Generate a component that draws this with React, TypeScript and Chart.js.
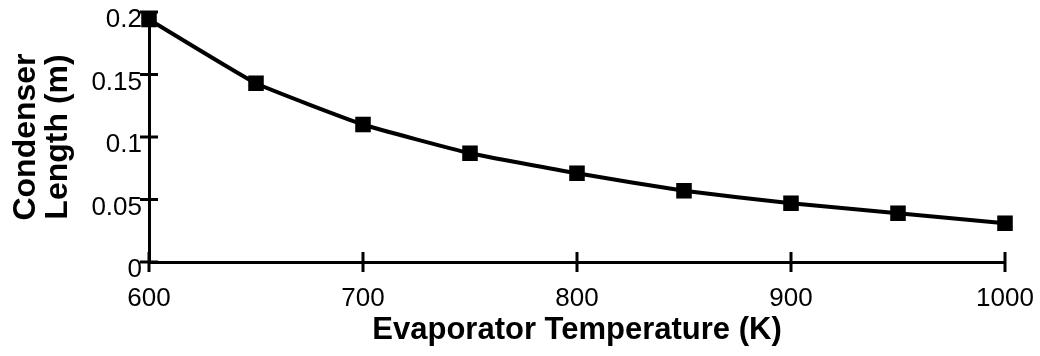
import React, { useEffect, useRef } from 'react';
import { Chart, registerables } from 'chart.js';

Chart.register(...registerables);

const temperatures = [600, 650, 700, 750, 800, 850, 900, 950, 1000];
const condenserLength = [0.194, 0.143, 0.11, 0.087, 0.071, 0.057, 0.047, 0.039, 0.031];
const yTickLabels = ['0', '0.05', '0.1', '0.15', '0.2'];
const xTitle = 'Evaporator Temperature (K)';
const yTitle = ['Condenser', 'Length (m)'];

const FONT = '"Liberation Sans", Arial, Helvetica, sans-serif';

const crossTicks = {
  id: 'crossTicks',
  beforeDatasetsDraw(chart: any) {
    const { ctx, chartArea } = chart;
    const x = chart.scales.x;
    const y = chart.scales.y;
    ctx.save();
    ctx.strokeStyle = '#000';
    ctx.lineWidth = 3;
    x.ticks.forEach((t: any) => {
      const px = x.getPixelForValue(t.value);
      ctx.beginPath();
      ctx.moveTo(px, chartArea.bottom - 10);
      ctx.lineTo(px, chartArea.bottom + 10);
      ctx.stroke();
    });
    y.ticks.forEach((t: any) => {
      const py = y.getPixelForValue(t.value);
      ctx.beginPath();
      ctx.moveTo(chartArea.left - 9, py);
      ctx.lineTo(chartArea.left + 9, py);
      ctx.stroke();
    });
    ctx.restore();
  },
};

export default function App() {
  const ref = useRef<HTMLCanvasElement>(null);

  useEffect(() => {
    if (!ref.current) return;
    const chart = new Chart(ref.current, {
      type: 'line',
      data: {
        datasets: [
          {
            data: temperatures.map((t, i) => ({ x: t, y: condenserLength[i] })),
            borderColor: '#000',
            backgroundColor: '#000',
            borderWidth: 4,
            pointStyle: 'rect',
            pointRadius: 11,
            pointBorderWidth: 0,
            pointBackgroundColor: '#000',
            tension: 0.12,
            clip: false,
          },
        ],
      },
      options: {
        responsive: false,
        animation: false,
        devicePixelRatio: 1,
        layout: { padding: { top: 12, right: 35, bottom: 0, left: 0 } },
        plugins: { legend: { display: false }, tooltip: { enabled: false } },
        scales: {
          x: {
            type: 'linear',
            min: 600,
            max: 1000,
            grid: { display: false, drawTicks: false },
            border: { display: true, color: '#000', width: 3 },
            ticks: {
              stepSize: 100,
              padding: 21,
              color: '#000',
              font: { family: FONT, size: 26 },
              callback: (v: any) => String(v),
              maxRotation: 0,
              autoSkip: false,
            },
            title: {
              display: true,
              text: xTitle,
              color: '#000',
              font: { family: FONT, size: 31, weight: 'bold', lineHeight: 1 },
              padding: { top: 0, bottom: 10 },
            },
            afterFit: (s: any) => {
              s.height = 94;
              s.paddingLeft = 0;
              s.paddingRight = 0;
              s.paddingTop = 0;
              s.paddingBottom = 0;
            },
          },
          y: {
            type: 'linear',
            min: 0,
            max: 0.2,
            grid: { display: false, drawTicks: false },
            border: { display: true, color: '#000', width: 3 },
            ticks: {
              stepSize: 0.05,
              padding: 7,
              labelOffset: 8,
              color: '#000',
              font: { family: FONT, size: 26 },
              callback: (_v: any, i: number) => yTickLabels[i],
              autoSkip: false,
            },
            title: {
              display: true,
              text: yTitle,
              color: '#000',
              font: { family: FONT, size: 32, weight: 'bold', lineHeight: 1 },
              padding: { top: 10, bottom: 0 },
            },
            afterFit: (s: any) => {
              s.width = 149;
              s.paddingLeft = 0;
              s.paddingRight = 0;
              s.paddingTop = 0;
              s.paddingBottom = 0;
            },
          },
        },
      },
      plugins: [crossTicks],
    } as any);
    return () => chart.destroy();
  }, []);

  return (
    <div style={{ position: 'fixed', left: 0, top: 0, width: 1040, height: 356, background: '#fff' }}>
      <canvas ref={ref} width={1040} height={356} style={{ display: 'block' }} />
    </div>
  );
}
